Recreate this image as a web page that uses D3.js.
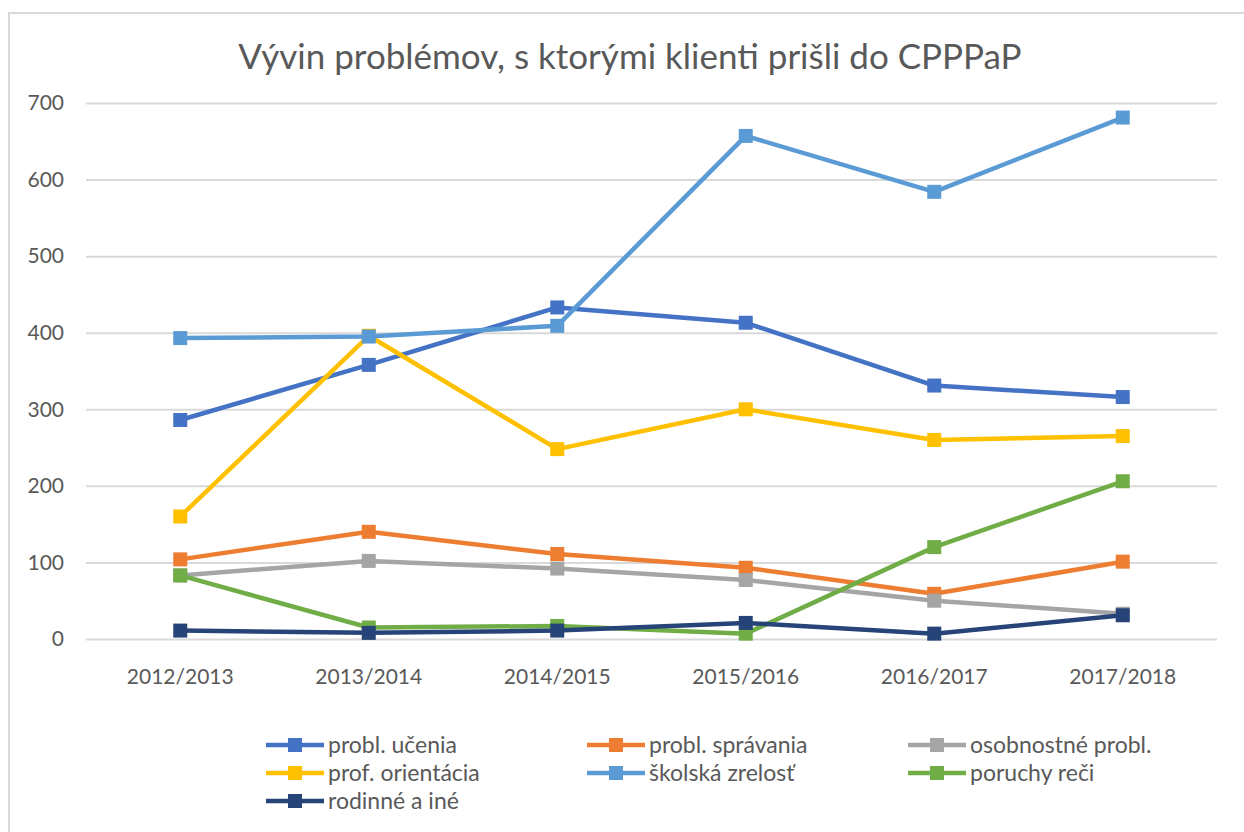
<!DOCTYPE html>
<html>
<head>
<meta charset="utf-8">
<script src="https://cdn.jsdelivr.net/npm/d3@7"></script>
<style>
  html, body { margin: 0; padding: 0; background: #fff; }
  svg { display: block; }
  text { font-family: Lato, "Open Sans", sans-serif; }
</style>
</head>
<body>
<svg id="chart" width="1244" height="832"></svg>
<script>
const categories = ["2012/2013", "2013/2014", "2014/2015", "2015/2016", "2016/2017", "2017/2018"];
const seriesNames = ["probl. učenia", "probl. správania", "osobnostné probl.", "prof. orientácia", "školská zrelosť", "poruchy reči", "rodinné a iné"];
const seriesColors = ["#4472C4", "#ED7D31", "#A5A5A5", "#FFC000", "#5B9BD5", "#70AD47", "#264478"];
const problUcenia     = [286, 358, 433, 413, 331, 316];
const problSpravania  = [104, 140, 111, 93, 59, 101];
const osobnostne      = [83, 102, 92, 77, 50, 33];
const profOrientacia  = [160, 396, 248, 300, 260, 265];
const skolskaZrelost  = [393, 395, 409, 657, 584, 681];
const poruchyReci     = [83, 15, 17, 7, 120, 206];
const rodinne         = [11, 8, 11, 21, 7, 31];
const yTicks = [0, 100, 200, 300, 400, 500, 600, 700];
const title = "Vývin problémov, s ktorými klienti prišli do CPPPaP";

const seriesValues = [problUcenia, problSpravania, osobnostne, profOrientacia, skolskaZrelost, poruchyReci, rodinne];
const series = seriesNames.map((name, i) => ({ name, color: seriesColors[i], values: seriesValues[i] }));

const svg = d3.select("#chart");
const plot = { left: 86, right: 1217, top: 103, bottom: 639 };

// outer border (chart area edge)
svg.append("path")
  .attr("d", `M9,832 L9,13 L1244,13`)
  .attr("fill", "none")
  .attr("stroke", "#d9d9d9")
  .attr("stroke-width", 2);

svg.append("text")
  .attr("x", 630).attr("y", 69)
  .attr("text-anchor", "middle")
  .attr("font-size", 35)
  .attr("fill", "#595959")
  .text(title);

const x = d3.scaleBand().domain(categories).range([plot.left, plot.right]).padding(0);
const y = d3.scaleLinear().domain([0, 700]).range([plot.bottom, plot.top]);

// gridlines
const yAxis = d3.axisLeft(y).tickValues(yTicks).tickSize(-(plot.right - plot.left)).tickPadding(22).tickFormat(d3.format("d"));
const gy = svg.append("g").attr("transform", `translate(${plot.left},0)`).call(yAxis);
gy.select(".domain").remove();
gy.selectAll(".tick line").attr("stroke", "#d9d9d9").attr("stroke-width", 2);
gy.selectAll(".tick text").attr("fill", "#595959").attr("font-size", 21).attr("font-family", "Lato, sans-serif");

const xAxis = d3.axisBottom(x).tickSize(0).tickPadding(30);
const gx = svg.append("g").attr("transform", `translate(0,${plot.bottom})`).call(xAxis);
gx.select(".domain").remove();
gx.selectAll(".tick text").attr("fill", "#595959").attr("font-size", 21).attr("font-family", "Lato, sans-serif");

const cx = c => x(c) + x.bandwidth() / 2;
const line = d3.line().x((d, i) => cx(categories[i])).y(d => y(d));
const ms = 14;

series.forEach(s => {
  const g = svg.append("g");
  g.append("path")
    .attr("d", line(s.values))
    .attr("fill", "none")
    .attr("stroke", s.color)
    .attr("stroke-width", 4.5)
    .attr("stroke-linejoin", "round");
  g.selectAll("rect").data(s.values).enter().append("rect")
    .attr("x", (d, i) => cx(categories[i]) - ms / 2)
    .attr("y", d => y(d) - ms / 2)
    .attr("width", ms).attr("height", ms)
    .attr("fill", s.color);
});

// legend
const legCols = [266, 587, 908];
const legRows = [745, 773, 801];
series.forEach((s, i) => {
  const lx = legCols[i % 3], ly = legRows[Math.floor(i / 3)];
  const g = svg.append("g");
  g.append("line").attr("x1", lx).attr("x2", lx + 58).attr("y1", ly).attr("y2", ly)
    .attr("stroke", s.color).attr("stroke-width", 4.5);
  g.append("rect").attr("x", lx + 29 - ms / 2).attr("y", ly - ms / 2).attr("width", ms).attr("height", ms).attr("fill", s.color);
  g.append("text").attr("x", lx + 62).attr("y", ly).attr("dy", "0.35em")
    .attr("font-size", 23).attr("fill", "#595959").text(s.name);
});
</script>
</body>
</html>
